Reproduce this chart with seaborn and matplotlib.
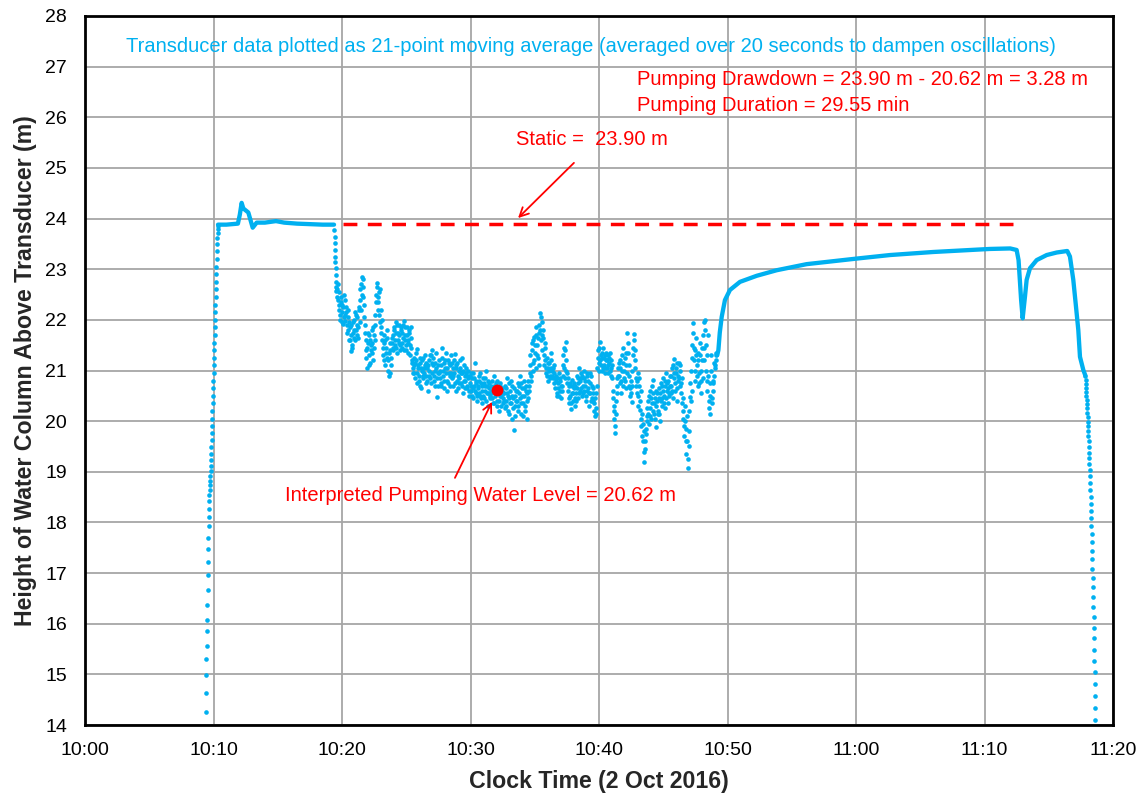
import numpy as np
import pandas as pd
import matplotlib
matplotlib.use("Agg")
import matplotlib.pyplot as plt
import seaborn as sns

BLUE = "#00B0F0"
RED = "#FF0000"

# Clock axis: minutes after 10:00
tick_minutes = [0, 10, 20, 30, 40, 50, 60, 70, 80]
tick_labels = ["10:00", "10:10", "10:20", "10:30", "10:40", "10:50", "11:00", "11:10", "11:20"]
level_ticks = list(range(14, 29))

# Transducer lowered into the well (1-second samples)
rise_start = 9.40
rise_level = [14.26, 14.63, 14.99, 15.30, 15.56, 15.86, 16.07, 16.37, 16.66, 16.96,
              17.22, 17.47, 17.69, 17.93, 18.11, 18.27, 18.42, 18.54, 18.64, 18.73,
              18.82, 18.92, 19.02, 19.12, 19.23, 19.35, 19.48, 19.62, 19.76, 19.90,
              20.05, 20.20, 20.35, 20.50, 20.65, 20.80, 20.95, 21.10, 21.25, 21.40,
              21.55, 21.70, 21.85, 22.00, 22.15, 22.30, 22.45, 22.60, 22.75, 22.90,
              23.05, 23.20, 23.35, 23.50, 23.62, 23.72, 23.80, 23.85]

# Static level before pumping
plateau_time = [10.35, 11.00, 11.90, 12.05, 12.19, 12.32, 12.71, 13.05, 13.36, 14.00,
                14.86, 15.50, 16.50, 17.50, 18.50, 19.38]
plateau_level = [23.88, 23.88, 23.90, 24.08, 24.31, 24.20, 24.12, 23.82, 23.92, 23.92,
                 23.95, 23.92, 23.90, 23.89, 23.88, 23.88]

# Pump start (1-second samples)
drop_start = 19.40
drop_level = [23.77, 23.64, 23.51, 23.38, 23.25, 23.15, 23.02, 22.88, 22.75, 22.65, 22.56]

# Pumping period, 4-second samples on the even clock (one row per minute)
pump_start = 19.60
pump_level = [
    22.45, 22.70, 22.30, 22.55, 22.10, 22.35, 21.95, 22.25, 22.05, 22.40, 21.98, 22.15, 21.75, 22.20, 21.60,
    21.85, 21.38, 21.70, 21.50, 21.95, 21.65, 22.15, 21.80, 21.70, 22.05, 21.85, 22.25, 22.60, 22.20, 22.84,
    22.45, 22.65, 22.05, 21.75, 21.40, 21.05, 21.55, 21.30, 21.70, 21.15, 21.50, 21.35, 21.85, 21.45, 21.60,
    22.10, 22.50, 22.72, 22.35, 22.55, 21.95, 22.20, 21.75, 21.60, 21.30, 21.55, 21.10, 21.45, 21.25, 21.65,
    21.20, 20.90, 21.40, 21.10, 21.55, 21.70, 21.45, 21.85, 21.60, 21.95, 21.35, 21.75, 21.55, 21.90, 21.50,
    21.80, 21.45, 21.65, 21.97, 21.60, 21.85, 21.40, 21.70, 21.55, 21.80, 21.30, 21.65, 21.45, 21.15, 20.95,
    21.10, 20.85, 21.20, 20.95, 21.43, 21.05, 20.80, 21.15, 20.65, 21.00, 20.90, 21.25, 20.95, 21.10, 20.75,
    21.05, 20.60, 21.20, 21.00, 20.85, 21.30, 21.40, 21.10, 20.90, 21.15, 20.70, 21.05, 20.48, 20.95, 21.20,
    20.85, 21.10, 20.70, 21.44, 21.00, 20.80, 21.20, 20.95, 20.60, 21.05, 20.75, 21.15, 20.90, 21.30, 20.85,
    21.05, 20.70, 20.95, 21.33, 21.10, 20.80, 20.65, 21.00, 20.85, 21.20, 20.75, 20.95, 20.55, 21.10, 20.90,
    20.80, 21.05, 20.65, 20.90, 20.50, 20.75, 20.95, 20.60, 20.85, 20.45, 20.70, 21.14, 20.55, 20.80, 20.40,
    20.65, 20.90, 20.50, 20.75, 20.35, 20.60, 20.85, 20.45, 20.70, 21.00, 20.55, 20.80, 20.30, 20.65, 20.50,
    20.70, 20.45, 20.60, 20.90, 20.35, 20.55, 20.75, 20.40, 20.65, 20.20, 20.50, 20.70, 20.30, 20.60, 20.45,
    20.55, 20.25, 20.65, 20.40, 20.85, 20.50, 20.15, 20.60, 20.35, 20.70, 20.05, 20.45, 19.83, 20.30, 20.60,
    20.40, 20.75, 20.20, 20.55, 20.90, 20.35, 20.65, 20.10, 20.50, 20.80, 20.30, 20.60, 20.04, 20.45, 20.70,
    20.95, 21.30, 20.80, 21.55, 21.15, 21.67, 21.35, 21.86, 21.05, 21.50, 21.25, 21.75, 22.14, 21.60, 21.95,
    21.40, 21.80, 21.10, 21.55, 20.95, 21.25, 21.05, 20.80, 21.15, 20.90, 21.35, 21.00, 20.85, 21.10, 20.75,
    20.65, 20.90, 20.50, 20.75, 20.95, 20.60, 20.80, 20.46, 20.70, 21.10, 21.45, 20.85, 21.57, 21.20, 20.95,
    20.60, 20.35, 20.75, 20.24, 20.55, 20.81, 20.40, 20.65, 20.30, 20.55, 20.90, 20.45, 20.75, 21.05, 20.60,
    20.85, 20.50, 20.70, 21.00, 20.60, 20.80, 20.40, 20.95, 20.65, 20.30, 20.75, 20.55, 20.90, 20.45, 20.65,
    20.35, 20.10, 20.55, 20.25, 21.05, 21.40, 21.15, 21.57, 21.30, 21.00, 21.25, 21.45, 21.10, 20.95, 21.20,
    21.05, 21.30, 20.95, 21.15, 21.35, 20.90, 21.10, 20.60, 20.30, 20.05, 19.77, 20.40, 20.70, 20.90, 21.15,
    20.75, 21.20, 20.55, 21.00, 21.45, 20.85, 21.25, 20.65, 21.10, 21.74, 21.35, 20.90, 20.50, 20.80, 20.37,
    21.00, 21.45, 21.73, 21.20, 20.85, 20.55, 20.95, 20.30, 20.70, 20.22, 20.05, 19.70, 19.95, 19.40, 19.20,
    19.60, 19.85, 20.10, 20.40, 19.95, 20.25, 20.60, 20.05, 20.35, 20.81, 20.15, 20.45, 19.89, 20.30, 20.55,
    20.20, 20.65, 20.00, 20.40, 20.70, 20.30, 20.85, 20.50, 20.25, 20.95, 20.60, 20.35, 20.80, 20.55, 20.90,
    20.70, 21.05, 20.45, 20.85, 21.22, 20.60, 20.95, 20.40, 20.80, 21.15, 20.70, 21.00, 20.55, 20.36, 20.20,
    19.90, 20.30, 19.60, 19.35, 20.10, 19.07, 19.50, 20.48, 21.00, 20.60, 21.50, 21.93, 21.20, 20.80, 21.65,
    21.10, 20.70, 21.35, 20.95, 21.54, 20.55, 21.20, 20.85, 21.95, 21.45, 22.00, 21.00, 20.60, 21.70, 20.40,
    20.15, 20.75, 21.30, 20.35, 20.60, 20.90, 21.05, 21.20, 21.35,
]

# Pumping period, 4-second samples on the odd clock (2 s after the even ones)
pump_start_odd = pump_start + 2 / 60
pump_level_odd = [
    22.60, 22.40, 22.20, 22.00, 22.45, 22.15, 22.30, 21.92, 22.50, 22.10, 22.25, 21.90, 22.05, 21.80, 21.95,
    21.60, 21.90, 21.45, 21.75, 21.80, 22.00, 21.60, 22.10, 21.90, 21.65, 22.20, 21.95, 22.40, 22.70, 22.50,
    22.80, 22.30, 21.90, 21.60, 21.25, 21.45, 21.75, 21.10, 21.60, 21.40, 21.80, 21.55, 21.20, 21.70, 21.90,
    22.35, 22.65, 22.20, 22.45, 22.10, 22.60, 21.85, 22.00, 21.45, 21.70, 21.20, 21.60, 21.35, 21.80, 21.00,
    21.35, 21.55, 20.95, 21.25, 21.65, 21.40, 21.80, 21.50, 21.75, 21.45, 21.90, 21.60, 21.70, 21.40, 21.85,
    21.55, 21.75, 21.90, 21.40, 21.70, 21.50, 21.85, 21.60, 21.35, 21.75, 21.50, 21.85, 21.20, 21.05, 21.25,
    20.95, 21.15, 21.35, 20.75, 21.10, 20.90, 21.25, 20.70, 21.05, 21.20, 20.85, 21.05, 21.30, 20.90, 21.15,
    20.80, 21.10, 20.90, 21.30, 20.75, 21.15, 20.95, 21.25, 20.80, 21.00, 21.35, 20.85, 20.70, 21.10, 20.95,
    21.00, 20.75, 21.25, 20.90, 21.15, 20.65, 21.05, 21.35, 20.80, 21.20, 20.95, 20.70, 21.10, 20.95, 21.15,
    20.90, 21.20, 20.75, 21.05, 20.60, 21.15, 20.90, 20.75, 21.05, 20.95, 21.25, 20.70, 21.00, 20.80, 20.65,
    20.95, 20.70, 21.00, 20.85, 20.60, 20.90, 20.70, 20.50, 20.95, 20.65, 20.85, 20.60, 20.75, 20.50, 20.70,
    20.80, 20.55, 20.95, 20.45, 20.70, 20.50, 20.75, 20.60, 20.85, 20.40, 20.70, 20.55, 20.75, 20.45, 20.60,
    20.55, 20.80, 20.35, 20.70, 20.50, 20.65, 20.30, 20.80, 20.55, 20.40, 20.75, 20.50, 20.65, 20.35, 20.55,
    20.40, 20.70, 20.30, 20.55, 20.20, 20.75, 20.45, 20.35, 20.80, 20.50, 20.25, 20.65, 20.10, 20.50, 20.40,
    20.60, 20.30, 20.70, 20.45, 20.15, 20.75, 20.50, 20.35, 20.65, 20.20, 20.70, 20.40, 20.55, 20.80, 20.60,
    21.10, 20.90, 21.40, 21.00, 21.60, 21.20, 21.50, 21.70, 21.30, 21.65, 21.10, 21.90, 21.80, 22.05, 21.70,
    21.65, 21.30, 21.45, 21.20, 21.05, 20.90, 21.15, 21.00, 20.85, 21.05, 21.20, 20.90, 21.05, 20.95, 20.85,
    20.80, 20.55, 20.85, 20.65, 20.50, 20.85, 20.70, 20.60, 20.90, 21.30, 21.05, 21.40, 21.00, 20.75, 20.85,
    20.45, 20.70, 20.50, 20.35, 20.70, 20.55, 20.75, 20.45, 20.70, 20.40, 20.65, 20.85, 20.55, 20.80, 20.95,
    20.65, 20.90, 20.55, 20.85, 20.70, 20.50, 20.90, 20.60, 20.80, 20.55, 20.95, 20.40, 20.70, 20.55, 20.40,
    20.20, 20.45, 20.15, 20.70, 21.25, 21.00, 21.45, 21.20, 21.10, 21.35, 21.05, 21.25, 21.30, 21.05, 21.35,
    21.20, 21.10, 21.25, 21.00, 21.20, 21.05, 20.85, 20.45, 20.20, 19.90, 20.15, 20.55, 20.85, 21.05, 20.90,
    21.05, 20.80, 21.30, 20.70, 21.15, 21.00, 20.80, 21.35, 20.95, 21.55, 21.10, 20.70, 20.65, 20.55, 20.70,
    21.30, 21.60, 21.40, 21.05, 20.70, 20.80, 20.50, 20.85, 20.40, 20.60, 19.90, 20.15, 19.60, 19.80, 19.45,
    19.75, 20.00, 20.25, 20.15, 20.50, 20.10, 20.45, 20.70, 20.20, 20.55, 20.35, 20.05, 20.60, 20.40, 20.15,
    20.45, 20.15, 20.55, 20.75, 20.45, 20.60, 20.35, 20.70, 20.80, 20.45, 20.75, 20.65, 20.50, 20.70, 20.55,
    20.90, 20.60, 21.10, 20.95, 20.75, 21.05, 20.65, 21.15, 20.90, 20.85, 21.10, 20.75, 20.85, 20.45, 20.05,
    19.70, 20.00, 19.85, 19.60, 19.25, 19.80, 20.20, 20.75, 20.40, 21.25, 21.75, 21.45, 21.00, 21.40, 21.30,
    20.90, 21.20, 20.75, 21.30, 21.00, 20.80, 21.45, 21.70, 21.20, 21.80, 21.50, 20.80, 21.30, 20.90, 20.25,
    20.50, 21.00, 20.45, 20.80, 20.75, 21.15, 21.10, 21.30,
]

# Recovery after pump stop, second short pumping, and transducer removal
recovery_time = [49.20, 49.29, 49.40, 49.55, 49.80, 50.19, 50.97, 52.27, 53.83, 56.16,
                 60.05, 62.65, 66.00, 70.40, 72.00, 72.50, 72.65, 72.75, 72.85, 72.97,
                 73.15, 73.28, 73.54, 74.06, 74.84, 75.62, 76.44, 76.65, 76.91, 77.12,
                 77.30, 77.43, 77.69, 77.85]
recovery_level = [21.30, 21.40, 21.75, 22.06, 22.39, 22.59, 22.75, 22.87, 22.98, 23.10,
                  23.21, 23.28, 23.34, 23.40, 23.41, 23.38, 23.18, 22.79, 22.39, 22.03,
                  22.46, 22.79, 23.02, 23.18, 23.28, 23.33, 23.36, 23.25, 22.79, 22.26,
                  21.80, 21.27, 21.01, 20.90]

# Transducer pulled out (1-second samples)
final_start = 77.85
final_level = [20.90, 20.82, 20.74, 20.66, 20.58, 20.50, 20.42, 20.34, 20.26, 20.17,
               20.08, 19.99, 19.90, 19.80, 19.70, 19.60, 19.49, 19.38, 19.27, 19.15,
               19.03, 18.91, 18.78, 18.65, 18.51, 18.37, 18.23, 18.08, 17.93, 17.77,
               17.61, 17.44, 17.27, 17.09, 16.91, 16.72, 16.53, 16.33, 16.13, 15.92,
               15.71, 15.49, 15.27, 15.04, 14.81, 14.57, 14.33, 14.10]

static_level = 23.90
static_from, static_to = 20.10, 72.20
pwl_time, pwl_level = 32.05, 20.62


def sampled(start, step_sec, levels):
    t = start + np.arange(len(levels)) * step_sec / 60.0
    return pd.DataFrame({"t": t, "level": levels})


dots = pd.concat([
    sampled(rise_start, 1, rise_level),
    sampled(drop_start, 1, drop_level),
    sampled(pump_start, 4, pump_level),
    sampled(pump_start_odd, 4, pump_level_odd),
    sampled(final_start, 1, final_level),
], ignore_index=True)
plateau = pd.DataFrame({"t": plateau_time, "level": plateau_level})
recovery = pd.DataFrame({"t": recovery_time, "level": recovery_level})

sns.set_style("white")
plt.rcParams["font.family"] = ["Liberation Sans", "DejaVu Sans"]

fig = plt.figure(figsize=(11.45, 7.96), dpi=100)
ax = fig.add_axes([85 / 1145, 1 - 725 / 796, 1028 / 1145, 709 / 796])

for part in (plateau, recovery):
    sns.lineplot(data=part, x="t", y="level", sort=False, estimator=None,
                 color=BLUE, lw=3.1, ax=ax, zorder=3)
sns.scatterplot(data=dots, x="t", y="level", color=BLUE, s=11, linewidth=0,
                ax=ax, zorder=3)

ax.plot([static_from, static_to], [static_level, static_level], color=RED,
        lw=2.5, dashes=(4, 3), zorder=4)
ax.plot([pwl_time], [pwl_level], "o", color=RED, markersize=7.5, zorder=5)

ax.set_xlim(0, 80)
ax.set_ylim(14, 28)
ax.set_xticks(tick_minutes)
ax.set_xticklabels(tick_labels)
ax.set_yticks(level_ticks)
ax.grid(True, color="#A6A6A6", lw=1.3)
ax.set_axisbelow(True)
for sp in ax.spines.values():
    sp.set_color("black")
    sp.set_linewidth(2)
ax.tick_params(direction="out", length=6, width=1.5, labelsize=14, colors="black")
ax.tick_params(axis="y", pad=7)
ax.tick_params(axis="x", pad=6)

ax.set_xlabel("Clock Time (2 Oct 2016)", fontsize=16.7, fontweight="bold", labelpad=8)
ax.set_ylabel("Height of Water Column Above Transducer (m)", fontsize=16.7,
              fontweight="bold", labelpad=6)

ax.text(3.19, 27.39, "Transducer data plotted as 21-point moving average "
        "(averaged over 20 seconds to dampen oscillations)",
        color=BLUE, fontsize=14.5, ha="left", va="center")
ax.text(42.96, 26.74, "Pumping Drawdown = 23.90 m - 20.62 m = 3.28 m",
        color=RED, fontsize=14.5, ha="left", va="center")
ax.text(42.96, 26.24, "Pumping Duration = 29.55 min",
        color=RED, fontsize=14.5, ha="left", va="center")
ax.text(33.54, 25.57, "Static =  23.90 m", color=RED, fontsize=14.5,
        ha="left", va="center")
ax.text(15.56, 18.54, "Interpreted Pumping Water Level = 20.62 m", color=RED,
        fontsize=14.5, ha="left", va="center")

arrow = dict(arrowstyle="->", color=RED, lw=1.3, mutation_scale=16, shrinkA=0, shrinkB=0)
ax.annotate("", xy=(33.7, 24.01), xytext=(38.05, 25.10), arrowprops=arrow, zorder=6)
ax.annotate("", xy=(31.67, 20.38), xytext=(28.79, 18.88), arrowprops=arrow, zorder=6)

fig.savefig("out.png", dpi=100)
